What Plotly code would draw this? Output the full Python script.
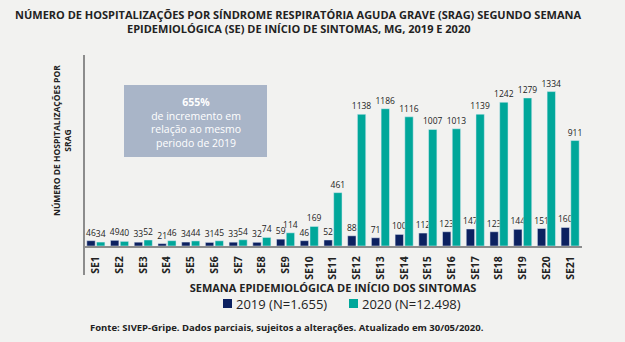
import plotly.graph_objects as go

categories = [f"SE{i}" for i in range(1, 22)]
values_2019 = [46, 49, 33, 21, 34, 31, 33, 32, 59, 46, 52, 88, 71, 100, 112, 123, 147, 123, 144, 151, 160]
values_2020 = [34, 40, 52, 46, 44, 45, 54, 74, 114, 169, 461, 1138, 1186, 1116, 1007, 1013, 1139, 1242, 1279, 1334, 911]
legend_2019 = "2019 (N=1.655)"
legend_2020 = "2020 (N=12.498)"
title_lines = [
    "NÚMERO DE HOSPITALIZAÇÕES POR SÍNDROME RESPIRATÓRIA AGUDA GRAVE (SRAG) SEGUNDO SEMANA",
    "EPIDEMIOLÓGICA (SE) DE INÍCIO DE SINTOMAS, MG, 2019 E 2020",
]
COL_2019 = "#0c2160"
COL_2020 = "#00a79a"

FONT = "Open Sans"
W, H = 625, 342
L, R, T, B = 84, 43, 55, 96
pw, ph = W - L - R, H - T - B

def px_x(p):
    return (p - L) / pw

def px_y(p):
    return (H - B - p) / ph

fig = go.Figure()
fig.add_trace(go.Bar(
    x=categories, y=values_2019, name=legend_2019,
    marker=dict(color=COL_2019),
    text=[str(v) for v in values_2019], textposition="outside",
    textfont=dict(size=8.5, color="#222", family=FONT),
    constraintext="none", cliponaxis=False,
))
fig.add_trace(go.Bar(
    x=categories, y=values_2020, name=legend_2020,
    marker=dict(color=COL_2020),
    text=[str(v) for v in values_2020], textposition="outside",
    textfont=dict(size=8.5, color="#222", family=FONT),
    constraintext="none", cliponaxis=False,
))

fig.update_layout(
    width=W, height=H,
    margin=dict(l=L, r=R, t=T, b=B),
    paper_bgcolor="#f2f2f0", plot_bgcolor="#f2f2f0",
    barmode="group", bargap=0.18, bargroupgap=0.14,
    font=dict(family=FONT, color="#222"),
    showlegend=False,
    xaxis=dict(
        tickangle=-90, tickfont=dict(size=10.5, color="#222", family=FONT, weight="bold"),
        showline=True, linecolor="#8c8c8c", linewidth=2, showgrid=False,
        ticks="outside", ticklen=4, tickcolor="rgba(0,0,0,0)",
        title=dict(text="SEMANA EPIDEMIOLÓGICA DE INÍCIO DOS SINTOMAS",
                   font=dict(size=11, color="#222", family=FONT, weight="bold"), standoff=3),
    ),
    yaxis=dict(range=[0, 1650], showticklabels=False, showgrid=False, ticks="",
               showline=False, zeroline=False),
)

# title
for text, py in zip(title_lines, [14, 29]):
    fig.add_annotation(xref="paper", yref="paper", x=px_x(298), y=px_y(py),
                       text=text, showarrow=False,
                       font=dict(size=11, color="#222", family=FONT, weight="bold"),
                       xanchor="center", yanchor="middle")

# legend (manual)
for col, label, sq_x in [(COL_2019, legend_2019, 223), (COL_2020, legend_2020, 349)]:
    fig.add_shape(type="rect", xref="paper", yref="paper",
                  x0=px_x(sq_x), x1=px_x(sq_x + 9), y0=px_y(308), y1=px_y(299),
                  fillcolor=col, line=dict(width=0))
    fig.add_annotation(xref="paper", yref="paper", x=px_x(sq_x + 11), y=px_y(303.5),
                       text=label, showarrow=False,
                       font=dict(size=13, color="#222", family=FONT),
                       xanchor="left", yanchor="middle")

# y-axis line extending below the x-axis
fig.add_shape(type="line", xref="paper", yref="paper",
              x0=0, x1=0, y0=px_y(275), y1=1,
              line=dict(color="#8c8c8c", width=2))

# info box
fig.add_shape(type="rect", xref="paper", yref="paper",
              x0=px_x(124), x1=px_x(267), y0=px_y(157), y1=px_y(85),
              fillcolor="#a9b5c8", line=dict(width=0), layer="below")
fig.add_annotation(xref="paper", yref="paper", x=px_x(195.5), y=px_y(122),
                   text="<b>655%</b><br>de incremento em<br>relação ao mesmo<br>periodo de 2019",
                   showarrow=False, font=dict(size=10.5, color="white", family=FONT),
                   align="center", xanchor="center", yanchor="middle")

# y-axis title
fig.add_annotation(xref="paper", yref="paper", x=px_x(62), y=px_y(141),
                   text="NÚMERO DE HOSPITALIZAÇÕES POR<br>SRAG", textangle=-90,
                   showarrow=False, font=dict(size=8.5, color="#222", family=FONT, weight="bold"),
                   align="center", xanchor="center", yanchor="middle")

# source
fig.add_annotation(xref="paper", yref="paper", x=px_x(88), y=px_y(327),
                   text="Fonte: SIVEP-Gripe. Dados parciais, sujeitos a alterações. Atualizado em 30/05/2020.",
                   showarrow=False, font=dict(size=9.5, color="#222", family=FONT, weight="bold"),
                   xanchor="left", yanchor="middle")

fig.write_html("out.html")
